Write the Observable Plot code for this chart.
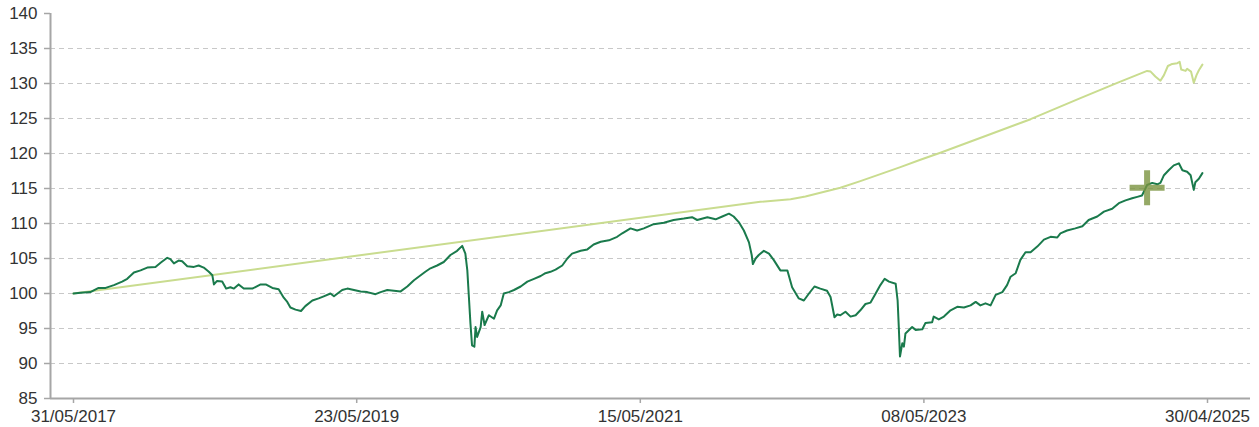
<!DOCTYPE html>
<html><head><meta charset="utf-8">
<script src="https://cdn.jsdelivr.net/npm/d3@7"></script>
<script src="https://cdn.jsdelivr.net/npm/@observablehq/plot@0.6"></script>
<style>body{margin:0;background:#fff} svg{display:block}</style>
</head><body><div id="chart"></div>
<script>
const fundDates = ["2017-05-31","2017-06-18","2017-07-13","2017-08-03","2017-08-21","2017-09-11","2017-10-02","2017-10-15","2017-11-01","2017-11-18","2017-12-05","2017-12-26","2018-01-08","2018-01-25","2018-02-02","2018-02-11","2018-02-23","2018-03-04","2018-03-17","2018-04-03","2018-04-15","2018-04-28","2018-05-11","2018-05-20","2018-05-24","2018-06-01","2018-06-14","2018-06-24","2018-07-05","2018-07-14","2018-07-26","2018-08-08","2018-08-30","2018-09-20","2018-10-03","2018-10-20","2018-11-05","2018-11-18","2018-11-27","2018-12-05","2018-12-18","2019-01-01","2019-01-12","2019-01-30","2019-02-15","2019-02-28","2019-03-17","2019-03-26","2019-04-16","2019-04-29","2019-05-16","2019-06-02","2019-06-19","2019-07-10","2019-07-23","2019-08-09","2019-08-26","2019-09-12","2019-09-29","2019-10-16","2019-11-02","2019-11-14","2019-11-27","2019-12-14","2019-12-31","2020-01-17","2020-02-03","2020-02-16","2020-02-24","2020-02-29","2020-03-04","2020-03-08","2020-03-12","2020-03-18","2020-03-21","2020-03-25","2020-04-03","2020-04-07","2020-04-13","2020-04-24","2020-05-07","2020-05-15","2020-05-24","2020-06-01","2020-06-14","2020-06-27","2020-07-14","2020-07-31","2020-08-17","2020-09-03","2020-09-15","2020-09-28","2020-10-11","2020-10-28","2020-11-10","2020-11-22","2020-12-14","2020-12-31","2021-01-16","2021-02-03","2021-02-24","2021-03-17","2021-03-30","2021-04-20","2021-05-07","2021-05-24","2021-06-18","2021-07-14","2021-08-08","2021-09-03","2021-09-24","2021-10-07","2021-11-02","2021-11-23","2021-12-10","2021-12-27","2022-01-08","2022-01-21","2022-02-03","2022-02-16","2022-02-23","2022-02-26","2022-03-05","2022-03-13","2022-03-26","2022-04-08","2022-04-20","2022-05-07","2022-05-25","2022-06-06","2022-06-23","2022-07-06","2022-07-19","2022-08-02","2022-08-17","2022-09-03","2022-09-12","2022-09-22","2022-09-29","2022-10-07","2022-10-20","2022-11-02","2022-11-15","2022-11-27","2022-12-10","2022-12-23","2023-01-05","2023-01-17","2023-01-28","2023-02-08","2023-02-25","2023-03-02","2023-03-05","2023-03-08","2023-03-14","2023-03-18","2023-03-22","2023-04-08","2023-04-17","2023-05-04","2023-05-12","2023-05-29","2023-06-02","2023-06-15","2023-06-28","2023-07-15","2023-08-01","2023-08-18","2023-09-04","2023-09-17","2023-09-29","2023-10-12","2023-10-25","2023-11-07","2023-11-24","2023-12-06","2023-12-15","2023-12-28","2024-01-09","2024-01-22","2024-02-04","2024-02-21","2024-03-09","2024-03-26","2024-04-12","2024-04-20","2024-05-07","2024-05-28","2024-06-15","2024-07-01","2024-07-23","2024-08-09","2024-08-30","2024-09-16","2024-10-03","2024-10-20","2024-11-02","2024-11-14","2024-11-27","2024-12-10","2024-12-23","2024-12-31","2025-01-09","2025-01-21","2025-02-03","2025-02-16","2025-02-25","2025-03-09","2025-03-18","2025-03-26","2025-03-30","2025-04-08","2025-04-17"];
const fundValues = [100.0,100.1,100.2,100.8,100.8,101.2,101.7,102.1,103.0,103.3,103.7,103.8,104.4,105.1,104.9,104.3,104.7,104.6,103.9,103.8,104.0,103.7,103.1,102.6,101.3,101.8,101.7,100.7,100.9,100.7,101.3,100.7,100.7,101.3,101.3,100.8,100.6,99.4,98.8,98.0,97.7,97.5,98.2,99.0,99.3,99.6,100.0,99.6,100.5,100.7,100.5,100.3,100.2,99.9,100.2,100.5,100.4,100.3,101.0,101.9,102.6,103.1,103.6,104.0,104.5,105.5,106.1,106.8,105.7,103.3,99.5,95.7,92.6,92.4,95.2,93.8,95.2,97.4,95.5,96.9,96.4,97.6,98.3,100.0,100.2,100.5,101.0,101.7,102.1,102.5,102.9,103.1,103.4,104.0,105.0,105.7,106.1,106.3,107.0,107.4,107.6,108.1,108.6,109.3,109.0,109.3,109.9,110.1,110.5,110.7,110.9,110.5,110.9,110.6,111.0,111.4,111.0,110.2,109.0,107.3,105.5,104.2,105.0,105.5,106.1,105.7,104.8,103.3,103.3,100.9,99.3,99.0,100.0,101.0,100.7,100.4,99.5,96.6,97.0,96.9,97.4,96.7,96.9,97.6,98.5,98.7,100.0,101.2,102.1,101.7,101.4,99.0,95.2,91.0,92.9,92.4,94.3,95.2,94.8,94.9,95.8,95.9,96.7,96.3,96.7,97.6,98.1,98.0,98.3,98.8,98.3,98.6,98.3,99.8,100.2,101.2,102.4,102.9,104.8,105.9,105.9,106.7,107.7,108.1,108.0,108.6,109.0,109.3,109.6,110.5,111.0,111.7,112.1,112.9,113.3,113.6,113.8,114.0,115.5,115.8,115.6,115.8,116.9,117.6,118.3,118.6,117.6,117.4,116.9,114.8,115.9,116.4,117.2];

const benchDates = ["2017-05-31","2022-03-17","2022-06-02","2022-07-10","2022-08-17","2022-10-07","2022-11-27","2023-01-17","2023-03-09","2023-04-29","2023-06-19","2023-10-12","2024-02-04","2024-06-10","2024-09-12","2024-11-27","2024-12-06","2024-12-18","2024-12-31","2025-01-09","2025-01-19","2025-01-30","2025-02-12","2025-02-18","2025-02-22","2025-03-05","2025-03-09","2025-03-19","2025-03-26","2025-04-02","2025-04-08","2025-04-17"];
const benchValues = [100.0,113.1,113.45,113.85,114.4,115.1,116.05,117.05,118.05,119.1,120.1,122.5,124.9,127.9,130.1,131.8,131.7,131.0,130.4,131.2,132.5,132.8,132.9,133.1,132.0,131.8,132.1,131.7,130.1,131.2,131.9,132.7];

const markerDates = ["2024-11-27"];
const markerValues = [115.1];

const xTickDates = ["2017-05-31","2019-05-23","2021-05-15","2023-05-08","2025-04-30"];
const yTicks = [85,90,95,100,105,110,115,120,125,130,135,140];

const parse = d3.utcParse("%Y-%m-%d");
const fund = fundDates.map((d, i) => ({date: parse(d), value: fundValues[i]}));
const bench = benchDates.map((d, i) => ({date: parse(d), value: benchValues[i]}));
const markers = markerDates.map((d, i) => ({date: parse(d), value: markerValues[i]}));
const xTicks = xTickDates.map(parse);

const plusSymbol = {draw(ctx) { const h = 17.5; ctx.moveTo(-h, 0); ctx.lineTo(h, 0); ctx.moveTo(0, -h); ctx.lineTo(0, h); }};
const axisGray = "#a6a6a6";

const chart = Plot.plot({
  width: 1259, height: 427,
  marginLeft: 50, marginRight: 9, marginTop: 13, marginBottom: 29,
  style: {fontFamily: "'Liberation Sans', Arial, sans-serif", fontSize: "17px", color: "#333", background: "#fff", overflow: "visible"},
  x: {type: "utc", domain: [xTicks[0], xTicks[xTicks.length - 1]], range: [73, 1207]},
  y: {domain: [85, 140]},
  marks: [
    Plot.gridY(yTicks.slice(1, -1), {stroke: "#c8c8c8", strokeOpacity: 1, strokeDasharray: "5,4"}),
    Plot.line(bench, {x: "date", y: "value", stroke: "#c9dc8f", strokeWidth: 2}),
    Plot.line(fund, {x: "date", y: "value", stroke: "#1a7a4c", strokeWidth: 2}),
    Plot.dot(markers, {x: "date", y: "value", symbol: plusSymbol, r: 10, fill: "none", stroke: "#7a9440", strokeOpacity: 0.8, strokeWidth: 6}),
    Plot.ruleY([85], {stroke: axisGray, strokeWidth: 2}),
    Plot.ruleX([xTicks[0]], {dx: -23, y1: 85, y2: 140, stroke: axisGray, strokeWidth: 2}),
    Plot.axisY({ticks: yTicks, tickSize: 6, tickPadding: 7, stroke: axisGray, strokeWidth: 1.5, label: null}),
    Plot.axisX({ticks: xTicks, tickFormat: d3.utcFormat("%d/%m/%Y"), tickSize: 5, tickPadding: 6, stroke: axisGray, strokeWidth: 1.5, label: null})
  ]
});
document.getElementById("chart").appendChild(chart);
</script>
</body></html>
